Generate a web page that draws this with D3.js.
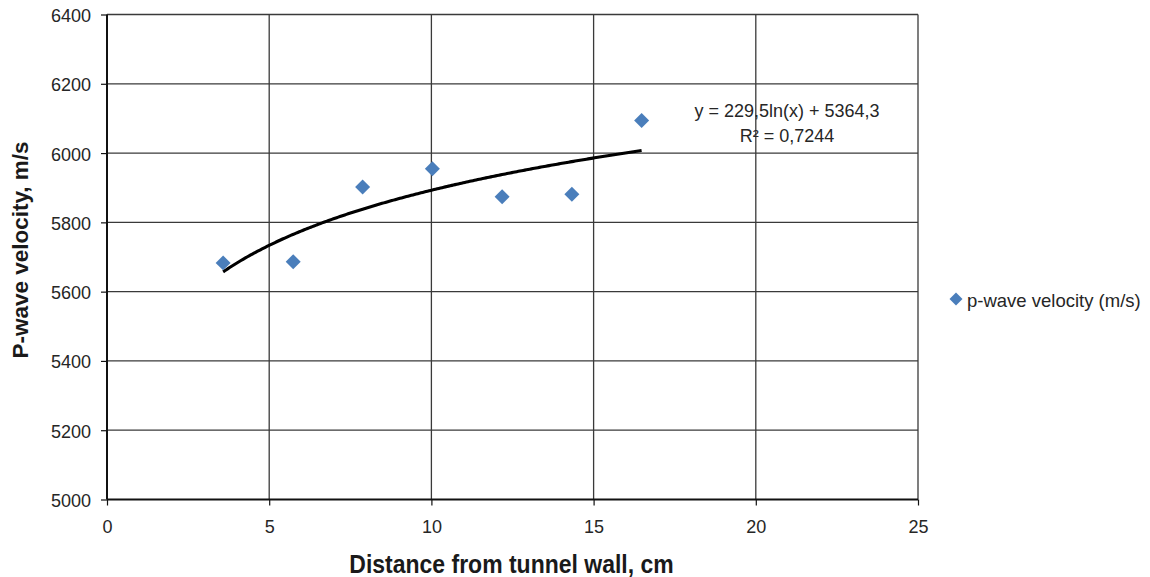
<!DOCTYPE html>
<html>
<head>
<meta charset="utf-8">
<script src="https://cdn.jsdelivr.net/npm/d3@7"></script>
<style>
  html, body { margin: 0; padding: 0; background: #fff; }
  svg { display: block; font-family: "Liberation Sans", Arial, sans-serif; }
</style>
</head>
<body>
<svg id="chart" width="1150" height="577"></svg>
<script>
// Measured distances from the tunnel wall (cm) and p-wave velocities (m/s)
const distance = [3.58, 5.74, 7.88, 10.03, 12.18, 14.33, 16.48];
const velocity = [5683, 5686, 5902, 5955, 5874, 5881, 6094];

// Logarithmic trendline coefficients: y = a ln(x) + b
const trendA = 229.5;
const trendB = 5364.3;
const trendLabel = ["y = 229,5ln(x) + 5364,3", "R² = 0,7244"];

const xTicks = [0, 5, 10, 15, 20, 25];
const yTicks = [5000, 5200, 5400, 5600, 5800, 6000, 6200, 6400];

const seriesName = "p-wave velocity (m/s)";
const xTitle = "Distance from tunnel wall, cm";
const yTitle = "P-wave velocity, m/s";

const svg = d3.select("#chart");
const plotLeft = 107, plotRight = 918, plotTop = 14.5, plotBottom = 499.5;
const textColor = "#262626";

const x = d3.scaleLinear().domain([0, 25]).range([plotLeft, plotRight]);
const y = d3.scaleLinear().domain([5000, 6400]).range([plotBottom, plotTop]);

// Gridlines
const grid = svg.append("g");
grid.selectAll(".gy").data(yTicks.slice(1)).join("line")
  .attr("x1", plotLeft).attr("x2", plotRight)
  .attr("y1", d => y(d)).attr("y2", d => y(d))
  .attr("stroke", "#3a3a3a").attr("stroke-width", 1.3);
grid.selectAll(".gx").data(xTicks.slice(1)).join("line")
  .attr("x1", d => x(d)).attr("x2", d => x(d))
  .attr("y1", plotTop).attr("y2", plotBottom)
  .attr("stroke", "#3a3a3a").attr("stroke-width", 1.3);

// Axes
const yAxis = svg.append("g")
  .attr("transform", `translate(${plotLeft},0)`)
  .call(d3.axisLeft(y).tickValues(yTicks).tickSize(6).tickPadding(10).tickFormat(d3.format("d")));
const xAxis = svg.append("g")
  .attr("transform", `translate(0,${plotBottom})`)
  .call(d3.axisBottom(x).tickValues(xTicks).tickSize(6).tickFormat(d3.format("d")));

[yAxis, xAxis].forEach(g => {
  g.select(".domain").attr("stroke", "#111").attr("stroke-width", 2);
  g.selectAll(".tick line").attr("stroke", "#111").attr("stroke-width", 1.2);
  g.selectAll(".tick text")
    .attr("fill", textColor)
    .style("font-size", "18px")
    .style("font-family", "'Liberation Sans', Arial, sans-serif");
});
yAxis.selectAll(".tick text").attr("dy", null).attr("y", 7);
xAxis.selectAll(".tick text").attr("dy", null).attr("y", 33.5);
yAxis.select(".domain").attr("d", `M0,${plotBottom}V${plotTop}`);
xAxis.select(".domain").attr("d", `M${plotLeft},0H${plotRight}`);

// Trendline
const trendXs = d3.range(distance[0], distance[distance.length - 1], 0.05);
trendXs.push(distance[distance.length - 1]);
const line = d3.line().x(d => x(d)).y(d => y(trendA * Math.log(d) + trendB));
svg.append("path")
  .datum(trendXs)
  .attr("d", line)
  .attr("fill", "none")
  .attr("stroke", "#000")
  .attr("stroke-width", 3.1);

// Data markers
const diamond = d3.symbol().type(d3.symbolSquare).size(112);
svg.append("g").selectAll("path").data(distance).join("path")
  .attr("d", diamond)
  .attr("transform", (d, i) => `translate(${x(d)},${y(velocity[i])}) rotate(45)`)
  .attr("fill", "#4a7ebb");

// Trendline equation
svg.append("g").selectAll("text").data(trendLabel).join("text")
  .attr("x", 787).attr("y", (d, i) => 117 + i * 24.5)
  .attr("text-anchor", "middle")
  .attr("fill", textColor)
  .style("font-size", "18px")
  .text(d => d);

// Legend
const legend = svg.append("g").attr("transform", "translate(956,299)");
legend.append("path")
  .attr("d", d3.symbol().type(d3.symbolSquare).size(85))
  .attr("transform", "rotate(45)")
  .attr("fill", "#4a7ebb");
legend.append("text")
  .attr("x", 11).attr("y", 8)
  .attr("fill", textColor)
  .style("font-size", "18.5px")
  .text(seriesName);

// Axis titles
svg.append("text")
  .attr("transform", `translate(${(plotLeft + plotRight) / 2 - 1},573) scale(1,1.12)`)
  .attr("text-anchor", "middle")
  .attr("fill", "#1a1a1a")
  .style("font-size", "23px").style("font-weight", "bold")
  .text(xTitle);
svg.append("text")
  .attr("transform", `translate(28,250) rotate(-90)`)
  .attr("text-anchor", "middle")
  .attr("fill", "#1a1a1a")
  .style("font-size", "22.5px").style("font-weight", "bold")
  .text(yTitle);
</script>
</body>
</html>
